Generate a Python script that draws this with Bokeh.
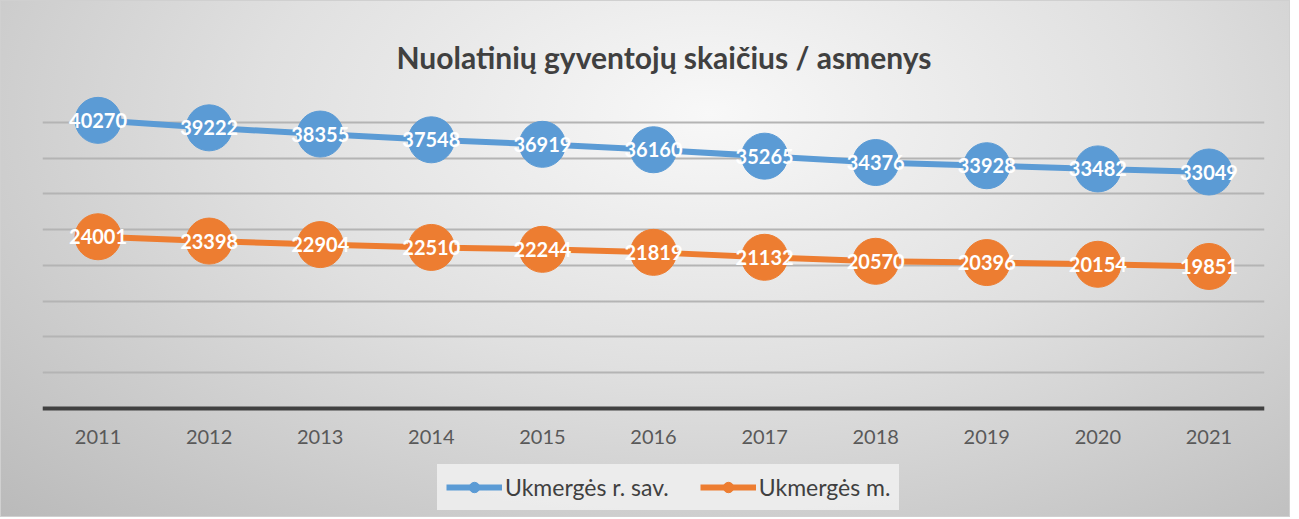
from bokeh.plotting import figure
from bokeh.models import (ColumnDataSource, Legend, LegendItem, FixedTicker, Range1d)
from bokeh.core.properties import value
from bokeh.embed import file_html
from bokeh.resources import INLINE

years = [2011, 2012, 2013, 2014, 2015, 2016, 2017, 2018, 2019, 2020, 2021]
rajonas = [40270, 39222, 38355, 37548, 36919, 36160, 35265, 34376, 33928, 33482, 33049]
miestas = [24001, 23398, 22904, 22510, 22244, 21819, 21132, 20570, 20396, 20154, 19851]
series_names = ["Ukmergės r. sav.", "Ukmergės m."]
colors = ["#5b9bd5", "#ed7d31"]
title_text = "Nuolatinių gyventojų skaičius / asmenys"
grid_ticks = [0, 5000, 10000, 15000, 20000, 25000, 30000, 35000, 40000, 45000]
y_max = 45000

FONT = "Lato"

# layout (pixels)
PLOT_H = 322      # height from value 0 to y_max
EXTRA_H = 109     # frame space below the zero line (axis labels + legend)
y_min = -y_max * EXTRA_H / PLOT_H

p = figure(frame_width=1222, frame_height=PLOT_H + EXTRA_H, output_backend="svg",
           toolbar_location=None,
           x_range=Range1d(years[0] - 0.5, years[-1] + 0.5),
           y_range=Range1d(y_min, y_max),
           min_border_left=42, min_border_right=26, min_border_top=86, min_border_bottom=0)

p.styles = {
    "background": "radial-gradient(ellipse farthest-corner at 55% 22%, #f8f8f8 0%, #e0e0e0 45%, #bababa 100%)",
    "box-shadow": "inset 0 0 0 1px #d0d0d0",
}
p.background_fill_alpha = 0
p.border_fill_alpha = 0
p.outline_line_alpha = 0

p.title.text = title_text
p.title.align = "left"
p.title.text_font = FONT
p.title.text_font_style = "bold"
p.title.text_font_size = "30px"
p.title.text_color = "#404040"
p.title.offset = 354
p.title.standoff = 24

# axes
p.yaxis.visible = False
p.xaxis.fixed_location = 0
p.xaxis.ticker = FixedTicker(ticks=years)
p.xaxis.major_tick_line_alpha = 0
p.xaxis.minor_tick_line_alpha = 0
p.xaxis.axis_line_color = "#404040"
p.xaxis.axis_line_width = 4
p.xaxis.major_label_text_font = FONT
p.xaxis.major_label_text_font_size = "20px"
p.xaxis.major_label_text_color = "#595959"
p.xaxis.major_label_standoff = 15

p.xgrid.visible = False
p.ygrid.ticker = FixedTicker(ticks=grid_ticks)
p.ygrid.grid_line_color = "#b4b4b4"
p.ygrid.grid_line_width = 2

items = []
for vals, name, col in zip([rajonas, miestas], series_names, colors):
    src = ColumnDataSource(dict(x=years, y=vals, t=[str(v) for v in vals]))
    lr = p.line("x", "y", source=src, line_color=col, line_width=6)
    small = p.scatter("x", "y", source=src, size=12, fill_color=col, line_color=col)
    p.scatter("x", "y", source=src, size=46, fill_color=col, line_color=col)
    p.text("x", "y", text="t", source=src, text_align="center", text_baseline="middle",
           text_color="white", text_font=value(FONT), text_font_style="bold",
           text_font_size="20px")
    items.append(LegendItem(label=name, renderers=[lr, small]))

legend = Legend(items=items, orientation="horizontal", location=(395, 7))
legend.label_text_font = FONT
legend.label_text_font_size = "23px"
legend.label_text_color = "#404040"
legend.background_fill_color = "#eeeeee"
legend.background_fill_alpha = 0.9
legend.border_line_alpha = 0
legend.glyph_width = 56
legend.glyph_height = 26
legend.label_standoff = 3
legend.spacing = 31
legend.padding = 9
legend.margin = 0
p.add_layout(legend, "center")

open("out.html", "w").write(file_html(p, INLINE))
